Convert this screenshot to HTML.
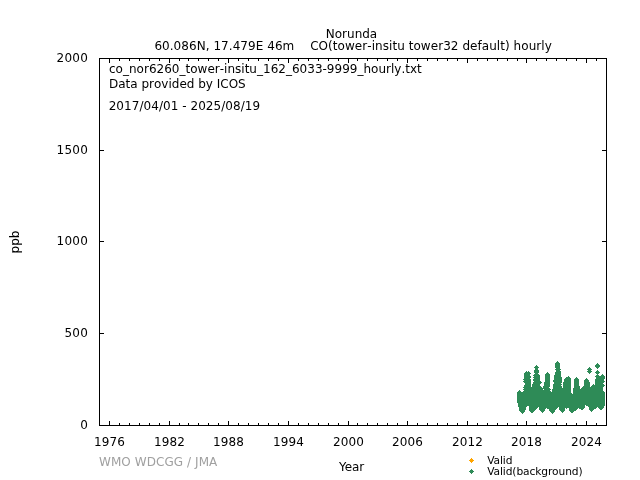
<!DOCTYPE html>
<html><head><meta charset="utf-8"><title>Norunda CO hourly</title>
<style>
html,body{margin:0;padding:0;background:#fff;}
body{width:640px;height:480px;overflow:hidden;}
svg{display:block;font-family:"DejaVu Sans","Liberation Sans",sans-serif;font-size:12px;font-kerning:none;}
.ln rect{shape-rendering:crispEdges;}
</style></head><body>
<svg width="640" height="480" viewBox="0 0 640 480">
<rect width="640" height="480" fill="#fff"/>
<g class="data">
<path fill="#2e8b57" shape-rendering="crispEdges" d="M557 361h1v1h-1zM556 362h3v1h-3zM555 363h5v1h-5zM597 363h1v1h-1zM555 364h5v1h-5zM596 364h3v1h-3zM536 365h1v1h-1zM555 365h5v1h-5zM595 365h5v1h-5zM535 366h3v1h-3zM555 366h5v1h-5zM595 366h5v1h-5zM534 367h5v1h-5zM555 367h5v1h-5zM589 367h1v1h-1zM596 367h3v1h-3zM535 368h3v1h-3zM556 368h4v1h-4zM588 368h3v1h-3zM597 368h1v1h-1zM535 369h3v1h-3zM555 369h6v1h-6zM587 369h5v1h-5zM534 370h5v1h-5zM556 370h4v1h-4zM588 370h3v1h-3zM597 370h1v1h-1zM526 371h1v1h-1zM528 371h1v1h-1zM534 371h5v1h-5zM556 371h5v1h-5zM587 371h5v1h-5zM596 371h3v1h-3zM525 372h5v1h-5zM534 372h5v1h-5zM547 372h1v1h-1zM555 372h6v1h-6zM588 372h3v1h-3zM595 372h5v1h-5zM524 373h7v1h-7zM535 373h3v1h-3zM546 373h3v1h-3zM555 373h6v1h-6zM589 373h1v1h-1zM596 373h3v1h-3zM524 374h6v1h-6zM534 374h5v1h-5zM545 374h5v1h-5zM555 374h6v1h-6zM597 374h1v1h-1zM602 374h1v1h-1zM524 375h6v1h-6zM533 375h7v1h-7zM545 375h5v1h-5zM554 375h7v1h-7zM596 375h3v1h-3zM601 375h3v1h-3zM524 376h7v1h-7zM534 376h6v1h-6zM545 376h5v1h-5zM554 376h7v1h-7zM568 376h1v1h-1zM595 376h10v1h-10zM524 377h7v1h-7zM533 377h7v1h-7zM545 377h5v1h-5zM554 377h8v1h-8zM566 377h4v1h-4zM576 377h1v1h-1zM596 377h9v1h-9zM524 378h6v1h-6zM534 378h6v1h-6zM545 378h5v1h-5zM554 378h8v1h-8zM565 378h6v1h-6zM575 378h3v1h-3zM586 378h1v1h-1zM596 378h9v1h-9zM523 379h8v1h-8zM533 379h7v1h-7zM545 379h5v1h-5zM554 379h8v1h-8zM564 379h7v1h-7zM574 379h5v1h-5zM585 379h3v1h-3zM595 379h9v1h-9zM524 380h7v1h-7zM533 380h7v1h-7zM545 380h5v1h-5zM553 380h9v1h-9zM564 380h7v1h-7zM574 380h5v1h-5zM584 380h5v1h-5zM595 380h9v1h-9zM523 381h8v1h-8zM534 381h7v1h-7zM545 381h5v1h-5zM553 381h9v1h-9zM564 381h7v1h-7zM574 381h5v1h-5zM584 381h5v1h-5zM595 381h10v1h-10zM524 382h7v1h-7zM533 382h9v1h-9zM544 382h6v1h-6zM554 382h8v1h-8zM563 382h8v1h-8zM574 382h5v1h-5zM584 382h6v1h-6zM595 382h9v1h-9zM525 383h6v1h-6zM533 383h8v1h-8zM544 383h6v1h-6zM554 383h7v1h-7zM563 383h8v1h-8zM574 383h5v1h-5zM584 383h6v1h-6zM595 383h8v1h-8zM525 384h6v1h-6zM532 384h8v1h-8zM544 384h6v1h-6zM553 384h9v1h-9zM563 384h8v1h-8zM574 384h5v1h-5zM584 384h6v1h-6zM593 384h1v1h-1zM595 384h9v1h-9zM524 385h7v1h-7zM532 385h8v1h-8zM544 385h6v1h-6zM553 385h8v1h-8zM563 385h8v1h-8zM574 385h5v1h-5zM584 385h6v1h-6zM592 385h13v1h-13zM524 386h7v1h-7zM532 386h9v1h-9zM543 386h7v1h-7zM553 386h9v1h-9zM563 386h8v1h-8zM574 386h6v1h-6zM583 386h7v1h-7zM591 386h13v1h-13zM523 387h19v1h-19zM543 387h6v1h-6zM553 387h9v1h-9zM563 387h8v1h-8zM574 387h6v1h-6zM582 387h21v1h-21zM524 388h26v1h-26zM553 388h18v1h-18zM573 388h7v1h-7zM581 388h22v1h-22zM523 389h20v1h-20zM544 389h7v1h-7zM552 389h19v1h-19zM573 389h30v1h-30zM519 390h1v1h-1zM524 390h26v1h-26zM552 390h19v1h-19zM573 390h30v1h-30zM518 391h3v1h-3zM523 391h28v1h-28zM552 391h19v1h-19zM573 391h31v1h-31zM517 392h54v1h-54zM573 392h32v1h-32zM517 393h55v1h-55zM573 393h32v1h-32zM517 394h88v1h-88zM517 395h88v1h-88zM517 396h88v1h-88zM517 397h88v1h-88zM517 398h88v1h-88zM517 399h88v1h-88zM517 400h88v1h-88zM517 401h88v1h-88zM517 402h88v1h-88zM518 403h87v1h-87zM518 404h87v1h-87zM518 405h67v1h-67zM586 405h19v1h-19zM518 406h9v1h-9zM529 406h56v1h-56zM588 406h16v1h-16zM519 407h7v1h-7zM529 407h9v1h-9zM539 407h19v1h-19zM559 407h26v1h-26zM589 407h8v1h-8zM598 407h6v1h-6zM519 408h7v1h-7zM529 408h8v1h-8zM539 408h7v1h-7zM547 408h10v1h-10zM559 408h6v1h-6zM566 408h1v1h-1zM569 408h9v1h-9zM579 408h5v1h-5zM589 408h7v1h-7zM599 408h4v1h-4zM519 409h7v1h-7zM529 409h7v1h-7zM539 409h6v1h-6zM549 409h7v1h-7zM559 409h6v1h-6zM569 409h8v1h-8zM581 409h2v1h-2zM589 409h5v1h-5zM600 409h2v1h-2zM519 410h6v1h-6zM529 410h6v1h-6zM540 410h5v1h-5zM549 410h6v1h-6zM560 410h5v1h-5zM569 410h7v1h-7zM590 410h3v1h-3zM520 411h5v1h-5zM530 411h4v1h-4zM541 411h3v1h-3zM550 411h5v1h-5zM561 411h3v1h-3zM570 411h4v1h-4zM591 411h1v1h-1zM521 412h3v1h-3zM531 412h2v1h-2zM542 412h1v1h-1zM551 412h3v1h-3zM562 412h1v1h-1zM571 412h2v1h-2zM522 413h1v1h-1zM552 413h1v1h-1z"/>
</g>
<g class="ln">
<rect x="99" y="58" width="508" height="1" fill="#000"/>
<rect x="99" y="425" width="508" height="1" fill="#000"/>
<rect x="99" y="58" width="1" height="368" fill="#000"/>
<rect x="606" y="58" width="1" height="368" fill="#000"/>
<rect x="109" y="421" width="1" height="4" fill="#000"/>
<rect x="109" y="59" width="1" height="4" fill="#000"/>
<rect x="119" y="423" width="1" height="2" fill="#000"/>
<rect x="119" y="59" width="1" height="2" fill="#000"/>
<rect x="129" y="423" width="1" height="2" fill="#000"/>
<rect x="129" y="59" width="1" height="2" fill="#000"/>
<rect x="139" y="423" width="1" height="2" fill="#000"/>
<rect x="139" y="59" width="1" height="2" fill="#000"/>
<rect x="149" y="423" width="1" height="2" fill="#000"/>
<rect x="149" y="59" width="1" height="2" fill="#000"/>
<rect x="159" y="423" width="1" height="2" fill="#000"/>
<rect x="159" y="59" width="1" height="2" fill="#000"/>
<rect x="169" y="421" width="1" height="4" fill="#000"/>
<rect x="169" y="59" width="1" height="4" fill="#000"/>
<rect x="179" y="423" width="1" height="2" fill="#000"/>
<rect x="179" y="59" width="1" height="2" fill="#000"/>
<rect x="188" y="423" width="1" height="2" fill="#000"/>
<rect x="188" y="59" width="1" height="2" fill="#000"/>
<rect x="198" y="423" width="1" height="2" fill="#000"/>
<rect x="198" y="59" width="1" height="2" fill="#000"/>
<rect x="208" y="423" width="1" height="2" fill="#000"/>
<rect x="208" y="59" width="1" height="2" fill="#000"/>
<rect x="218" y="423" width="1" height="2" fill="#000"/>
<rect x="218" y="59" width="1" height="2" fill="#000"/>
<rect x="228" y="421" width="1" height="4" fill="#000"/>
<rect x="228" y="59" width="1" height="4" fill="#000"/>
<rect x="238" y="423" width="1" height="2" fill="#000"/>
<rect x="238" y="59" width="1" height="2" fill="#000"/>
<rect x="248" y="423" width="1" height="2" fill="#000"/>
<rect x="248" y="59" width="1" height="2" fill="#000"/>
<rect x="258" y="423" width="1" height="2" fill="#000"/>
<rect x="258" y="59" width="1" height="2" fill="#000"/>
<rect x="268" y="423" width="1" height="2" fill="#000"/>
<rect x="268" y="59" width="1" height="2" fill="#000"/>
<rect x="278" y="423" width="1" height="2" fill="#000"/>
<rect x="278" y="59" width="1" height="2" fill="#000"/>
<rect x="288" y="421" width="1" height="4" fill="#000"/>
<rect x="288" y="59" width="1" height="4" fill="#000"/>
<rect x="298" y="423" width="1" height="2" fill="#000"/>
<rect x="298" y="59" width="1" height="2" fill="#000"/>
<rect x="308" y="423" width="1" height="2" fill="#000"/>
<rect x="308" y="59" width="1" height="2" fill="#000"/>
<rect x="318" y="423" width="1" height="2" fill="#000"/>
<rect x="318" y="59" width="1" height="2" fill="#000"/>
<rect x="328" y="423" width="1" height="2" fill="#000"/>
<rect x="328" y="59" width="1" height="2" fill="#000"/>
<rect x="338" y="423" width="1" height="2" fill="#000"/>
<rect x="338" y="59" width="1" height="2" fill="#000"/>
<rect x="348" y="421" width="1" height="4" fill="#000"/>
<rect x="348" y="59" width="1" height="4" fill="#000"/>
<rect x="357" y="423" width="1" height="2" fill="#000"/>
<rect x="357" y="59" width="1" height="2" fill="#000"/>
<rect x="367" y="423" width="1" height="2" fill="#000"/>
<rect x="367" y="59" width="1" height="2" fill="#000"/>
<rect x="377" y="423" width="1" height="2" fill="#000"/>
<rect x="377" y="59" width="1" height="2" fill="#000"/>
<rect x="387" y="423" width="1" height="2" fill="#000"/>
<rect x="387" y="59" width="1" height="2" fill="#000"/>
<rect x="397" y="423" width="1" height="2" fill="#000"/>
<rect x="397" y="59" width="1" height="2" fill="#000"/>
<rect x="407" y="421" width="1" height="4" fill="#000"/>
<rect x="407" y="59" width="1" height="4" fill="#000"/>
<rect x="417" y="423" width="1" height="2" fill="#000"/>
<rect x="417" y="59" width="1" height="2" fill="#000"/>
<rect x="427" y="423" width="1" height="2" fill="#000"/>
<rect x="427" y="59" width="1" height="2" fill="#000"/>
<rect x="437" y="423" width="1" height="2" fill="#000"/>
<rect x="437" y="59" width="1" height="2" fill="#000"/>
<rect x="447" y="423" width="1" height="2" fill="#000"/>
<rect x="447" y="59" width="1" height="2" fill="#000"/>
<rect x="457" y="423" width="1" height="2" fill="#000"/>
<rect x="457" y="59" width="1" height="2" fill="#000"/>
<rect x="467" y="421" width="1" height="4" fill="#000"/>
<rect x="467" y="59" width="1" height="4" fill="#000"/>
<rect x="477" y="423" width="1" height="2" fill="#000"/>
<rect x="477" y="59" width="1" height="2" fill="#000"/>
<rect x="487" y="423" width="1" height="2" fill="#000"/>
<rect x="487" y="59" width="1" height="2" fill="#000"/>
<rect x="497" y="423" width="1" height="2" fill="#000"/>
<rect x="497" y="59" width="1" height="2" fill="#000"/>
<rect x="507" y="423" width="1" height="2" fill="#000"/>
<rect x="507" y="59" width="1" height="2" fill="#000"/>
<rect x="517" y="423" width="1" height="2" fill="#000"/>
<rect x="517" y="59" width="1" height="2" fill="#000"/>
<rect x="526" y="421" width="1" height="4" fill="#000"/>
<rect x="526" y="59" width="1" height="4" fill="#000"/>
<rect x="536" y="423" width="1" height="2" fill="#000"/>
<rect x="536" y="59" width="1" height="2" fill="#000"/>
<rect x="546" y="423" width="1" height="2" fill="#000"/>
<rect x="546" y="59" width="1" height="2" fill="#000"/>
<rect x="556" y="423" width="1" height="2" fill="#000"/>
<rect x="556" y="59" width="1" height="2" fill="#000"/>
<rect x="566" y="423" width="1" height="2" fill="#000"/>
<rect x="566" y="59" width="1" height="2" fill="#000"/>
<rect x="576" y="423" width="1" height="2" fill="#000"/>
<rect x="576" y="59" width="1" height="2" fill="#000"/>
<rect x="586" y="421" width="1" height="4" fill="#000"/>
<rect x="586" y="59" width="1" height="4" fill="#000"/>
<rect x="596" y="423" width="1" height="2" fill="#000"/>
<rect x="596" y="59" width="1" height="2" fill="#000"/>
<rect x="100" y="333" width="4" height="1" fill="#000"/>
<rect x="602" y="333" width="4" height="1" fill="#000"/>
<rect x="100" y="241" width="4" height="1" fill="#000"/>
<rect x="602" y="241" width="4" height="1" fill="#000"/>
<rect x="100" y="150" width="4" height="1" fill="#000"/>
<rect x="602" y="150" width="4" height="1" fill="#000"/>
<rect x="471" y="458" width="1" height="1" fill="#ffa500"/>
<rect x="470" y="459" width="3" height="1" fill="#ffa500"/>
<rect x="469" y="460" width="5" height="1" fill="#ffa500"/>
<rect x="470" y="461" width="3" height="1" fill="#ffa500"/>
<rect x="471" y="462" width="1" height="1" fill="#ffa500"/>
<rect x="471" y="469" width="1" height="1" fill="#2e8b57"/>
<rect x="470" y="470" width="3" height="1" fill="#2e8b57"/>
<rect x="469" y="471" width="5" height="1" fill="#2e8b57"/>
<rect x="470" y="472" width="3" height="1" fill="#2e8b57"/>
<rect x="471" y="473" width="1" height="1" fill="#2e8b57"/>
</g>
<g class="tx">
<text x="351.5" y="38" text-anchor="middle" fill="#000">Norunda</text>
<text y="50" fill="#000" style="white-space:pre"><tspan x="154.4" letter-spacing="0.05">60.086N, 17.479E 46m    </tspan><tspan x="310.2" letter-spacing="0.053">CO(tower-insitu tower32 default) hourly</tspan></text>
<text x="88.1" y="428.5" text-anchor="end" fill="#000" letter-spacing="0.25">0</text>
<text x="88.1" y="336.5" text-anchor="end" fill="#000" letter-spacing="0.25">500</text>
<text x="88.1" y="244.5" text-anchor="end" fill="#000" letter-spacing="0.25">1000</text>
<text x="88.1" y="153.5" text-anchor="end" fill="#000" letter-spacing="0.25">1500</text>
<text x="88.1" y="61.5" text-anchor="end" fill="#000" letter-spacing="0.25">2000</text>
<text x="109.5" y="446" text-anchor="middle" fill="#000" letter-spacing="0.08">1976</text>
<text x="169.5" y="446" text-anchor="middle" fill="#000" letter-spacing="0.08">1982</text>
<text x="228.5" y="446" text-anchor="middle" fill="#000" letter-spacing="0.08">1988</text>
<text x="288.5" y="446" text-anchor="middle" fill="#000" letter-spacing="0.08">1994</text>
<text x="348.5" y="446" text-anchor="middle" fill="#000" letter-spacing="0.08">2000</text>
<text x="407.5" y="446" text-anchor="middle" fill="#000" letter-spacing="0.08">2006</text>
<text x="467.5" y="446" text-anchor="middle" fill="#000" letter-spacing="0.08">2012</text>
<text x="526.5" y="446" text-anchor="middle" fill="#000" letter-spacing="0.08">2018</text>
<text x="586.5" y="446" text-anchor="middle" fill="#000" letter-spacing="0.08">2024</text>
<text x="109" y="73" text-anchor="start" fill="#000" letter-spacing="0.012">co_nor6260_tower-insitu_162_6033-9999_hourly.txt</text>
<text x="109" y="88" text-anchor="start" fill="#000">Data provided by ICOS</text>
<text x="108.7" y="110" text-anchor="start" fill="#000" letter-spacing="0.05">2017/04/01 - 2025/08/19</text>
<text x="99" y="466" text-anchor="start" fill="#a0a0a0" letter-spacing="0.07">WMO WDCGG / JMA</text>
<text x="351.6" y="471" text-anchor="middle" fill="#000" style="font-kerning:normal">Year</text>
<text x="487.2" y="464" text-anchor="start" fill="#000" letter-spacing="-0.1" font-size="10.67" style="font-kerning:normal">Valid</text>
<text x="487.2" y="475" text-anchor="start" fill="#000" letter-spacing="-0.1" font-size="10.67" style="font-kerning:normal">Valid(background)</text>
<text transform="translate(19,242) rotate(-90)" text-anchor="middle">ppb</text>
</g>
</svg>
</body></html>
